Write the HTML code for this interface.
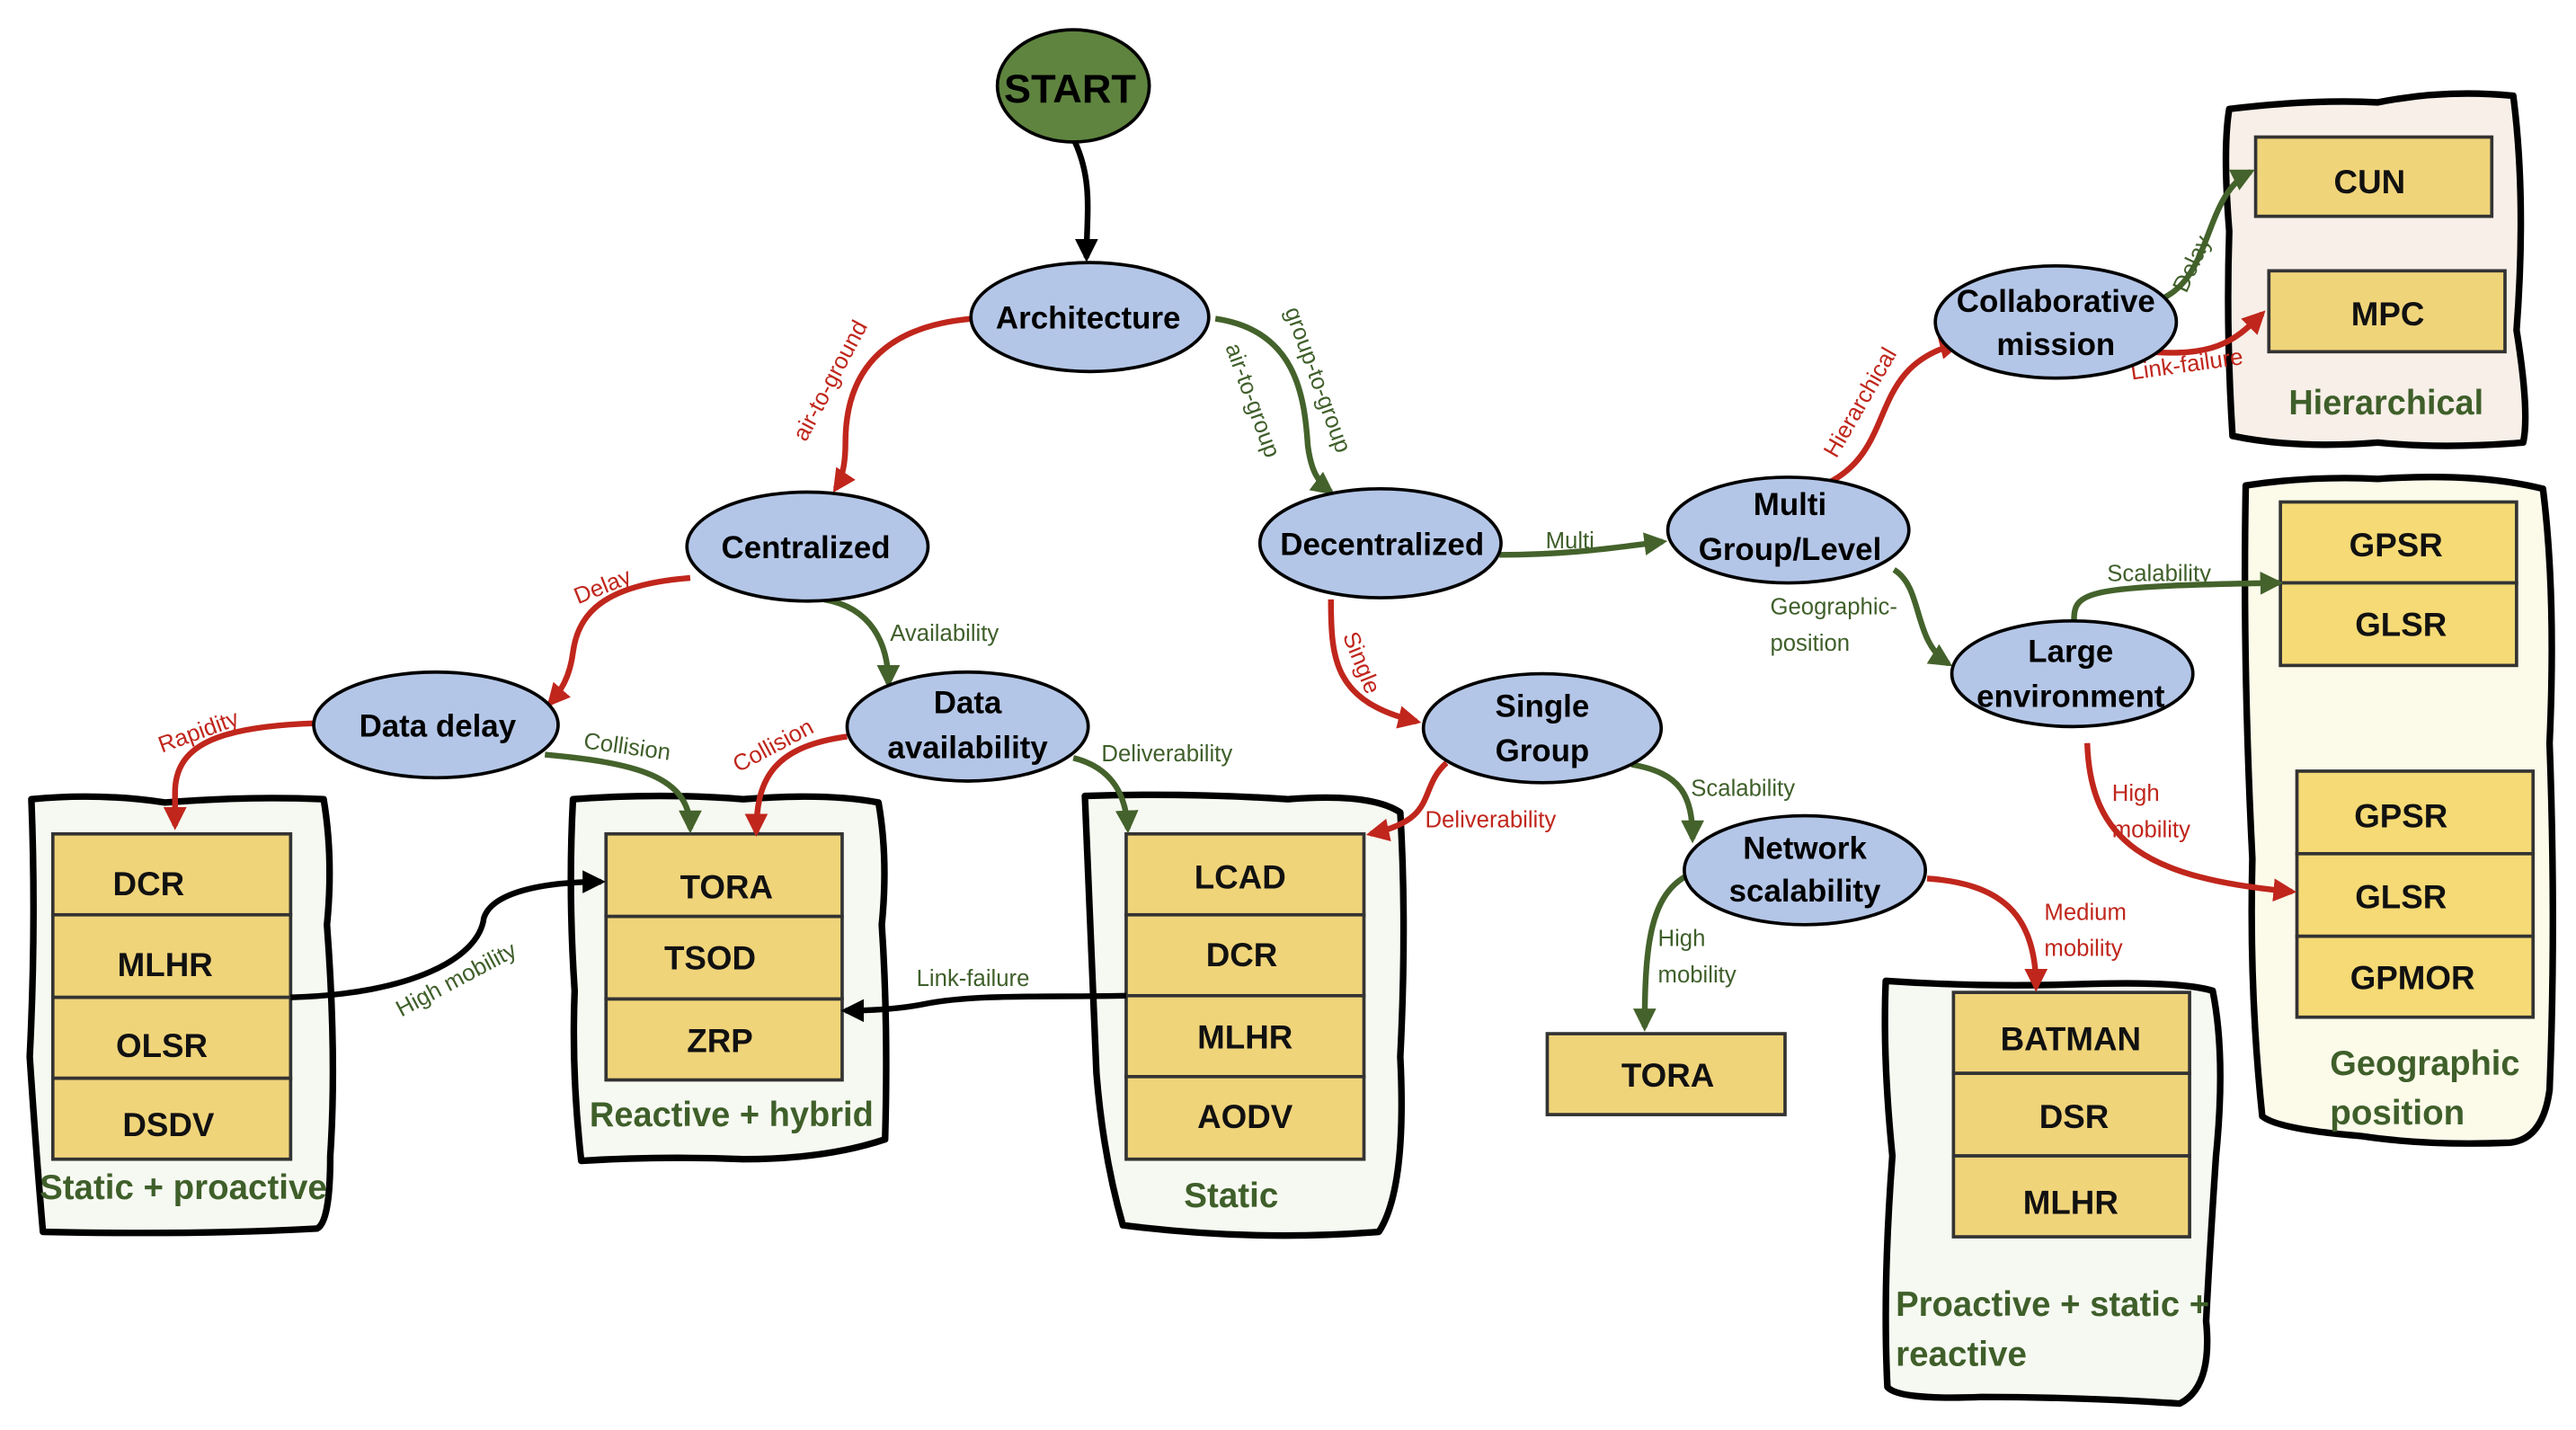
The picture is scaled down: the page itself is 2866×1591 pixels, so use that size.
<!DOCTYPE html>
<html><head><meta charset="utf-8"><style>
html,body{margin:0;padding:0;background:#fff;}
svg{display:block;}
text{font-family:"Liberation Sans Narrow","Liberation Sans",sans-serif;}
.n{font-weight:bold;font-size:19px;fill:#000;text-anchor:middle;}
.b{font-weight:bold;font-size:20px;fill:#111;text-anchor:middle;}
.g{font-weight:bold;font-size:21px;fill:#3f5f2a;}
.lr{font-size:14px;fill:#c0261c;}
.lg{font-size:14px;fill:#3f5f2a;}
.ell{fill:#b4c6e7;stroke:#000;stroke-width:2;}
.box{fill:#f0d47a;stroke:#333;stroke-width:2;}
.cont{fill:#f6f9f1;stroke:#000;stroke-width:4;stroke-linejoin:round;}
.er{fill:none;stroke:#c0261c;stroke-width:3.5;marker-end:url(#ar);}
.eg{fill:none;stroke:#44622b;stroke-width:3.5;marker-end:url(#ag);}
.ek{fill:none;stroke:#000;stroke-width:3.5;marker-end:url(#ak);}
</style></head><body>
<svg width="2866" height="1591" viewBox="0 0 1560 866" preserveAspectRatio="none" xmlns="http://www.w3.org/2000/svg">
<defs>
<marker id="ar" viewBox="0 0 10 10" refX="8" refY="5" markerWidth="4" markerHeight="4" orient="auto"><path d="M0,0L10,5L0,10z" fill="#c0261c"/></marker>
<marker id="ag" viewBox="0 0 10 10" refX="8" refY="5" markerWidth="4" markerHeight="4" orient="auto"><path d="M0,0L10,5L0,10z" fill="#44622b"/></marker>
<marker id="ak" viewBox="0 0 10 10" refX="8" refY="5" markerWidth="4" markerHeight="4" orient="auto"><path d="M0,0L10,5L0,10z" fill="#000"/></marker>
</defs>
<rect width="1560" height="866" fill="#fff"/>

<path class="cont" d="M19,484 Q60,480 100,486 Q150,482 196,484 Q202,520 198,560 Q204,640 200,700 Q200,740 192,744 Q120,748 26,746 Q22,700 18,640 Q22,560 19,484z"/>
<path class="cont" d="M347,484 Q400,480 450,484 Q500,480 532,486 Q538,520 534,560 Q538,620 536,690 Q500,702 450,702 Q400,700 352,703 Q346,650 348,600 Q344,540 347,484z"/>
<path class="cont" d="M657,482 Q720,480 780,484 Q830,480 848,492 Q852,560 848,640 Q852,720 835,746 Q760,752 680,742 Q668,700 664,650 Q660,560 657,482z"/>
<path class="cont" d="M1142,594 Q1200,598 1260,596 Q1320,594 1340,600 Q1348,640 1342,700 Q1338,760 1336,800 Q1340,840 1320,850 Q1260,846 1200,846 Q1150,848 1143,840 Q1140,780 1146,700 Q1140,640 1142,594z"/>
<path class="cont" style="fill:#f7efe8" d="M1350,66 Q1400,60 1440,62 Q1480,54 1522,58 Q1530,120 1524,200 Q1532,250 1528,268 Q1480,272 1440,268 Q1390,272 1352,264 Q1348,200 1350,140 Q1346,90 1350,66z"/>
<path class="cont" style="fill:#fcfbea" d="M1360,294 Q1400,288 1440,290 Q1500,286 1540,296 Q1548,360 1544,450 Q1548,560 1544,660 Q1540,690 1520,692 Q1470,694 1430,688 Q1380,684 1370,676 Q1362,600 1364,520 Q1358,400 1360,294z"/>

<g>
<rect class="box" x="32" y="505" width="144" height="49"/><rect class="box" x="32" y="554" width="144" height="50"/><rect class="box" x="32" y="604" width="144" height="49"/><rect class="box" x="32" y="653" width="144" height="49"/>
<text class="b" x="90" y="542">DCR</text><text class="b" x="100" y="591">MLHR</text><text class="b" x="98" y="640">OLSR</text><text class="b" x="102" y="688">DSDV</text>
<rect class="box" x="367" y="505" width="143" height="50"/><rect class="box" x="367" y="555" width="143" height="50"/><rect class="box" x="367" y="605" width="143" height="49"/>
<text class="b" x="440" y="544">TORA</text><text class="b" x="430" y="587">TSOD</text><text class="b" x="436" y="637">ZRP</text>
<rect class="box" x="682" y="505" width="144" height="49"/><rect class="box" x="682" y="554" width="144" height="49"/><rect class="box" x="682" y="603" width="144" height="49"/><rect class="box" x="682" y="652" width="144" height="50"/>
<text class="b" x="751" y="538">LCAD</text><text class="b" x="752" y="585">DCR</text><text class="b" x="754" y="635">MLHR</text><text class="b" x="754" y="683">AODV</text>
<rect class="box" x="937" y="626" width="144" height="49"/><text class="b" x="1010" y="658">TORA</text>
<rect class="box" x="1183" y="601" width="143" height="49"/><rect class="box" x="1183" y="650" width="143" height="50"/><rect class="box" x="1183" y="700" width="143" height="49"/>
<text class="b" x="1254" y="636">BATMAN</text><text class="b" x="1256" y="683">DSR</text><text class="b" x="1254" y="735">MLHR</text>
<rect class="box" x="1366" y="83" width="143" height="48"/><text class="b" x="1435" y="117">CUN</text>
<rect class="box" x="1374" y="164" width="143" height="49"/><text class="b" x="1446" y="197">MPC</text>
<rect class="box" style="fill:#f5da75" x="1381" y="304" width="143" height="49"/><rect class="box" style="fill:#f5da75" x="1381" y="353" width="143" height="50"/>
<text class="b" x="1451" y="337">GPSR</text><text class="b" x="1454" y="385">GLSR</text>
<rect class="box" style="fill:#f5da75" x="1391" y="467" width="143" height="50"/><rect class="box" style="fill:#f5da75" x="1391" y="517" width="143" height="50"/><rect class="box" style="fill:#f5da75" x="1391" y="567" width="143" height="49"/>
<text class="b" x="1454" y="501">GPSR</text><text class="b" x="1454" y="550">GLSR</text><text class="b" x="1461" y="599">GPMOR</text>
</g>

<text class="g" x="24" y="726" textLength="174" lengthAdjust="spacingAndGlyphs">Static + proactive</text>
<text class="g" x="357" y="682" textLength="172" lengthAdjust="spacingAndGlyphs">Reactive + hybrid</text>
<text class="g" x="717" y="731">Static</text>
<text class="g" x="1148" y="797" textLength="190" lengthAdjust="spacingAndGlyphs">Proactive + static +</text>
<text class="g" x="1148" y="827">reactive</text>
<text class="g" x="1386" y="251" textLength="118" lengthAdjust="spacingAndGlyphs">Hierarchical</text>
<text class="g" x="1411" y="651" textLength="115" lengthAdjust="spacingAndGlyphs">Geographic</text>
<text class="g" x="1411" y="681">position</text>

<path class="ek" d="M651,86 C662,110 658,130 658,156"/>
<path class="er" d="M589,193 C530,198 512,230 512,268 C512,280 510,290 506,296"/>
<path class="eg" d="M736,193 C785,200 790,240 792,270 C794,285 798,292 806,298"/>
<path class="er" d="M418,350 C365,354 350,372 347,395 C345,410 340,418 333,426"/>
<path class="eg" d="M499,363 C528,368 538,390 538,414"/>
<path class="er" d="M191,438 C130,440 106,452 106,480 L106,500"/>
<path class="eg" d="M330,457 C385,462 418,470 418,502"/>
<path class="er" d="M513,446 C470,452 458,470 458,504"/>
<path class="eg" d="M650,459 C674,465 682,482 683,502"/>
<path class="ek" d="M176,604 C250,602 290,580 293,556 C298,540 330,534 364,534"/>
<path class="ek" d="M682,603 C630,604 590,602 560,608 C545,611 530,612 512,612"/>
<path class="eg" d="M908,336 C950,336 975,332 1007,328"/>
<path class="er" d="M806,363 C806,400 808,425 858,437"/>
<path class="er" d="M876,462 C858,478 872,496 830,505"/>
<path class="eg" d="M988,463 C1018,468 1025,482 1025,508"/>
<path class="eg" d="M1022,530 C1000,542 996,570 996,622"/>
<path class="er" d="M1167,532 C1210,535 1233,552 1233,598"/>
<path class="er" d="M1108,292 C1150,270 1130,222 1186,208"/>
<path class="eg" d="M1147,345 C1165,356 1158,388 1180,402"/>
<path class="eg" d="M1311,180 C1340,165 1335,118 1363,104"/>
<path class="er" d="M1300,213 C1340,216 1352,208 1370,190"/>
<path class="eg" d="M1256,376 C1256,358 1262,355 1380,353"/>
<path class="er" d="M1264,450 C1266,510 1300,532 1388,540"/>

<text class="lr" transform="translate(488,268) rotate(-62)">air-to-ground</text>
<text class="lg" transform="translate(778,188) rotate(70)">group-to-group</text>
<text class="lg" transform="translate(742,210) rotate(70)">air-to-group</text>
<text class="lr" transform="translate(350,366) rotate(-22)">Delay</text>
<text class="lg" x="539" y="388">Availability</text>
<text class="lr" transform="translate(98,456) rotate(-20)">Rapidity</text>
<text class="lg" transform="translate(353,453) rotate(8)">Collision</text>
<text class="lr" transform="translate(447,468) rotate(-28)">Collision</text>
<text class="lg" x="667" y="461">Deliverability</text>
<text class="lg" transform="translate(243,616) rotate(-28)">High mobility</text>
<text class="lg" x="555" y="597">Link-failure</text>
<text class="lg" x="936" y="332">Multi</text>
<text class="lr" transform="translate(813,385) rotate(68)">Single</text>
<text class="lr" x="863" y="501">Deliverability</text>
<text class="lg" x="1024" y="482">Scalability</text>
<text class="lg" x="1004" y="573">High</text><text class="lg" x="1004" y="595">mobility</text>
<text class="lr" x="1238" y="557">Medium</text><text class="lr" x="1238" y="579">mobility</text>
<text class="lr" transform="translate(1112,278) rotate(-60)">Hierarchical</text>
<text class="lg" x="1072" y="372">Geographic-</text><text class="lg" x="1072" y="394">position</text>
<text class="lg" transform="translate(1324,178) rotate(-65)">Delay</text>
<text class="lr" transform="translate(1291,230) rotate(-8)">Link-failure</text>
<text class="lg" x="1276" y="352">Scalability</text>
<text class="lr" x="1279" y="485">High</text><text class="lr" x="1279" y="507">mobility</text>

<ellipse cx="650" cy="52" rx="46" ry="34" fill="#5f843f" stroke="#000" stroke-width="2"/>
<text class="n" x="648" y="62" style="font-size:24px" textLength="80" lengthAdjust="spacingAndGlyphs">START</text>
<ellipse class="ell" cx="660" cy="192" rx="72" ry="33"/><text class="n" x="659" y="199">Architecture</text>
<ellipse class="ell" cx="489" cy="331" rx="73" ry="33"/><text class="n" x="488" y="338">Centralized</text>
<ellipse class="ell" cx="836" cy="329" rx="73" ry="33"/><text class="n" x="837" y="336">Decentralized</text>
<ellipse class="ell" cx="264" cy="439" rx="74" ry="32"/><text class="n" x="265" y="446">Data delay</text>
<ellipse class="ell" cx="586" cy="440" rx="73" ry="33"/><text class="n" x="586" y="432">Data</text><text class="n" x="586" y="459">availability</text>
<ellipse class="ell" cx="934" cy="441" rx="72" ry="33"/><text class="n" x="934" y="434">Single</text><text class="n" x="934" y="461">Group</text>
<ellipse class="ell" cx="1093" cy="527" rx="73" ry="33"/><text class="n" x="1093" y="520">Network</text><text class="n" x="1093" y="546">scalability</text>
<ellipse class="ell" cx="1083" cy="321" rx="73" ry="32"/><text class="n" x="1084" y="312">Multi</text><text class="n" x="1084" y="339">Group/Level</text>
<ellipse class="ell" cx="1245" cy="195" rx="73" ry="34"/><text class="n" x="1245" y="189">Collaborative</text><text class="n" x="1245" y="215">mission</text>
<ellipse class="ell" cx="1255" cy="408" rx="73" ry="32"/><text class="n" x="1254" y="401">Large</text><text class="n" x="1254" y="428">environment</text>
</svg>
</body></html>
